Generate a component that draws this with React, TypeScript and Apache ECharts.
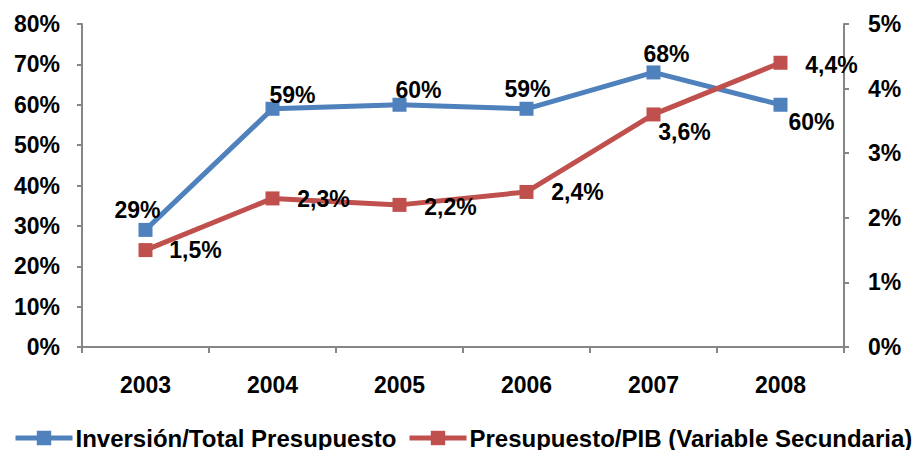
import React, { useEffect, useRef } from "react";
import * as echarts from "echarts";

const years = ["2003", "2004", "2005", "2006", "2007", "2008"];
const inversion = [29, 59, 60, 59, 68, 60];
const pib = [1.5, 2.3, 2.2, 2.4, 3.6, 4.4];
const leftTicks = { min: 0, max: 80, interval: 10 };
const rightTicks = { min: 0, max: 5, interval: 1 };

const blueOffsets: [number, number][] = [[-8, -20], [20, -14], [19, -15], [1, -20], [13, -18], [31, 17]];
const redOffsets: [number, number][] = [[50, 0], [51, 1], [51, 2], [51, 0], [31, 18], [51, 2]];

const FONT = "'Liberation Sans', Arial, sans-serif";
const AXIS = "#868686";
const FS = 23;
const SERIES_A = "Inversión/Total Presupuesto";
const SERIES_B = "Presupuesto/PIB (Variable Secundaria)";

export default function App() {
  const ref = useRef<HTMLDivElement>(null);
  useEffect(() => {
    if (!ref.current) return;
    const chart = echarts.init(ref.current, undefined, { renderer: "svg" });
    const labelBase = {
      show: true,
      position: "inside",
      color: "#000",
      fontWeight: "bold",
      fontSize: FS,
      fontFamily: FONT,
    };
    const legendBase = {
      top: 426,
      padding: 0,
      itemWidth: 57,
      itemHeight: 18,
      lineStyle: { width: 5 },
      textStyle: { fontSize: 24, fontWeight: "bold", color: "#000", fontFamily: FONT, padding: [0, 0, 0, -2] },
    };
    chart.setOption({
      animation: false,
      textStyle: { fontFamily: FONT },
      grid: { left: 82, right: 70, top: 24, bottom: 103, containLabel: false },
      legend: [
        { ...legendBase, left: 13, data: [SERIES_A] },
        { ...legendBase, left: 407, data: [SERIES_B] },
      ],
      xAxis: {
        type: "category",
        data: years,
        boundaryGap: true,
        axisLine: { lineStyle: { color: AXIS, width: 2 } },
        axisTick: { show: true, length: 6, alignWithLabel: false, interval: 0, lineStyle: { color: AXIS, width: 2 } },
        axisLabel: { color: "#000", fontWeight: "bold", fontSize: FS, margin: 26, fontFamily: FONT },
        splitLine: { show: false },
      },
      yAxis: [
        {
          type: "value",
          min: leftTicks.min,
          max: leftTicks.max,
          interval: leftTicks.interval,
          axisLine: { show: true, lineStyle: { color: AXIS, width: 2 } },
          axisTick: { show: true, length: 5, lineStyle: { color: AXIS, width: 2 } },
          axisLabel: { color: "#000", fontWeight: "bold", fontSize: FS, margin: 22, formatter: (v: number) => `${v}%`, fontFamily: FONT },
          splitLine: { show: false },
        },
        {
          type: "value",
          position: "right",
          min: rightTicks.min,
          max: rightTicks.max,
          interval: rightTicks.interval,
          axisLine: { show: true, lineStyle: { color: AXIS, width: 2 } },
          axisTick: { show: true, length: 5, lineStyle: { color: AXIS, width: 2 } },
          axisLabel: { color: "#000", fontWeight: "bold", fontSize: FS, margin: 24, formatter: (v: number) => `${v}%`, fontFamily: FONT },
          splitLine: { show: false },
        },
      ],
      series: [
        {
          name: SERIES_A,
          type: "line",
          yAxisIndex: 0,
          symbol: "rect",
          symbolSize: 14,
          color: "#4F81BD",
          lineStyle: { width: 5, color: "#4F81BD" },
          itemStyle: { color: "#4F81BD" },
          data: inversion.map((v, i) => ({
            value: v,
            label: { ...labelBase, offset: blueOffsets[i], formatter: `${v}%` },
          })),
        },
        {
          name: SERIES_B,
          type: "line",
          yAxisIndex: 1,
          symbol: "rect",
          symbolSize: 14,
          color: "#C0504D",
          lineStyle: { width: 5, color: "#C0504D" },
          itemStyle: { color: "#C0504D" },
          data: pib.map((v, i) => ({
            value: v,
            label: { ...labelBase, offset: redOffsets[i], formatter: `${v.toFixed(1).replace(".", ",")}%` },
          })),
        },
      ],
    });
    return () => chart.dispose();
  }, []);
  return <div ref={ref} style={{ position: "absolute", left: 0, top: 0, width: 914, height: 450 }} />;
}
